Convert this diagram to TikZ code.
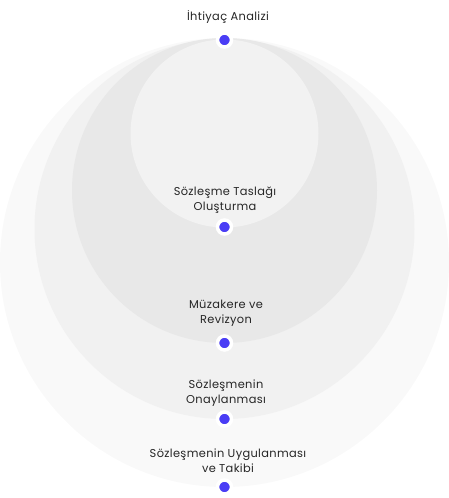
\documentclass[tikz,border=0pt]{standalone}
\usepackage{fontspec}
\setmainfont{Poppins}[LetterSpace=3]
\definecolor{c1}{HTML}{F9F9F9}
\definecolor{c2}{HTML}{F1F1F1}
\definecolor{c3}{HTML}{E8E8E8}
\definecolor{c4}{HTML}{F2F2F2}
\definecolor{dotc}{HTML}{4A3DF5}
\definecolor{txt}{HTML}{262626}
\begin{document}
\begin{tikzpicture}[x=1pt,y=-1pt,
  lbl/.style={font=\fontsize{11.4}{15}\selectfont, text=txt, align=center, inner sep=0pt},
  dotn/.style={circle, fill=dotc, draw=white, line width=3.5pt, minimum size=14pt, inner sep=0pt}]
\useasboundingbox (0,0) rectangle (449,498);
\fill[c1] (224.5,262.5) circle (224.5);
\fill[c2] (224.5,229) circle (190);
\fill[c3] (224.5,190.5) circle (152.5);
\fill[c4] (224.5,133.5) circle (94);
\node[dotn] (d1) at (224.5,40) {};
\node[dotn] (d2) at (224.5,227) {};
\node[dotn] (d3) at (224.5,343) {};
\node[dotn] (d4) at (224.5,419) {};
\node[dotn] (d5) at (224.5,487) {};
\node[lbl] (t1) at (228,17) {İhtiyaç Analizi};
\node[lbl] (t2) at (225,200) {Sözleşme Taslağı\\Oluşturma};
\node[lbl] (t3) at (226,313) {Müzakere ve\\Revizyon};
\node[lbl] (t4) at (226,393) {Sözleşmenin\\Onaylanması};
\node[lbl] (t5) at (228,461) {Sözleşmenin Uygulanması\\ve Takibi};
\end{tikzpicture}
\end{document}
